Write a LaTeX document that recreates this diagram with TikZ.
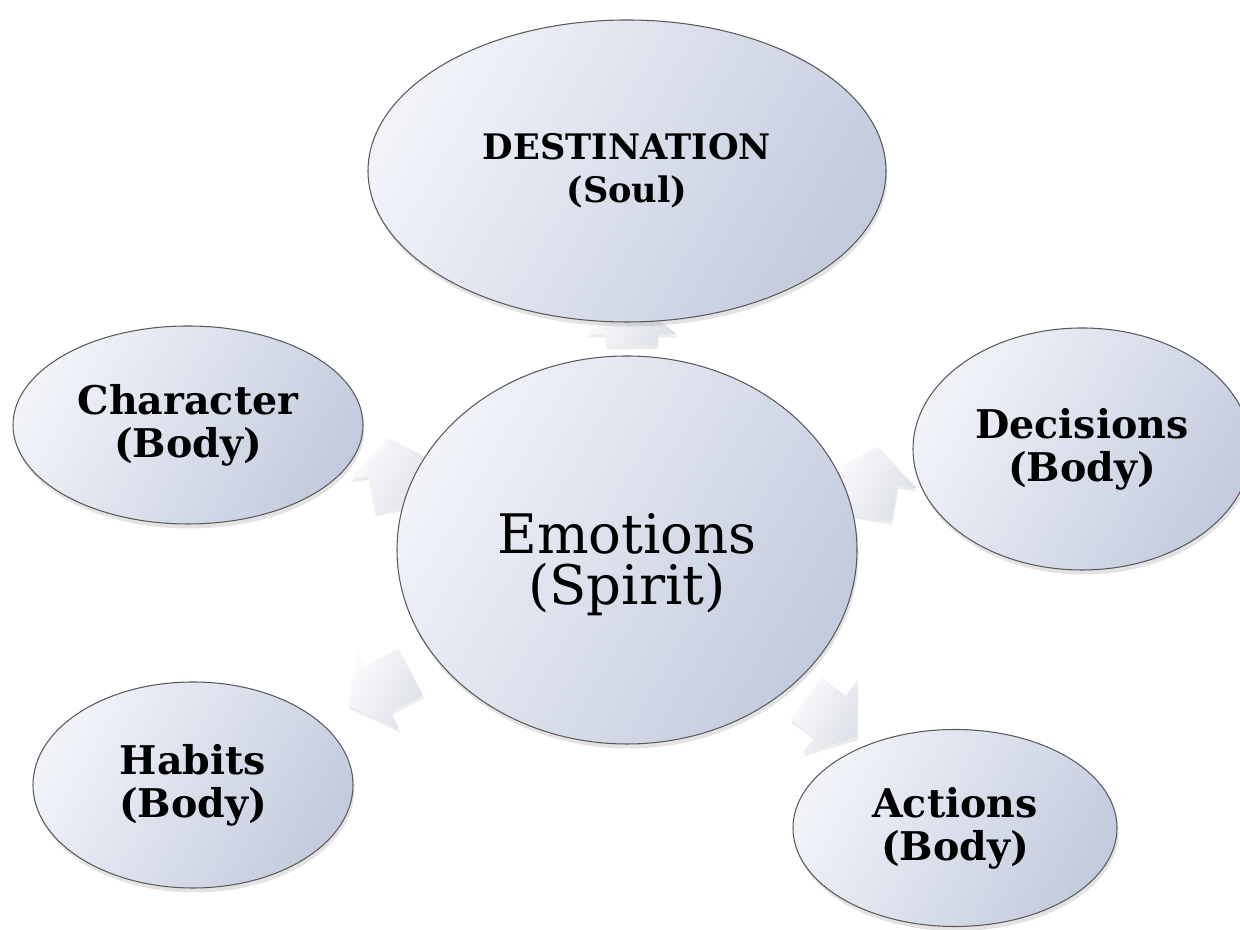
\documentclass[tikz,border=0pt]{standalone}
\usepackage{fontspec}
\setmainfont{DejaVu Serif}
\usetikzlibrary{shapes.geometric,shadows}

\definecolor{ovalLight}{HTML}{F1F3F9}
\definecolor{ovalDark}{HTML}{C4CBDE}
\definecolor{ovalEdge}{HTML}{5A5A5A}
\definecolor{arrLight}{HTML}{FBFBFD}
\definecolor{arrDark}{HTML}{DDE0E8}

\begin{document}
\begin{tikzpicture}[
    oval/.style={ellipse,draw=ovalEdge,line width=0.6pt,inner sep=0pt,
        left color=ovalLight,right color=ovalDark,shading angle=60,
        drop shadow={shadow xshift=0.03cm,shadow yshift=-0.09cm,opacity=0.22},
        align=center,font=\fontsize{22.5}{24.5}\selectfont\bfseries},
    core/.style={oval,font=\fontsize{31}{29}\selectfont},
    blockarrow/.style={left color=arrLight,right color=arrDark,shading angle=60,
        drop shadow={shadow xshift=0.02cm,shadow yshift=-0.07cm,opacity=0.15}},
]
\useasboundingbox (0,0) rectangle (24.8,18.6);

    %%%
    % Block arrows first, so that the ovals lie over them
    \foreach \x/\y/\ang/\shaft in {12.63/11.92/90/0.24, 7.88/9.17/100/0.74,
        17.44/8.99/80/0.74, 7.56/4.82/208/0.74, 16.6/4.27/-37/0.6}
    \path[blockarrow,shift={(\x,\y)},rotate=\ang]
        (-\shaft,-0.52) -- (0,-0.52) -- (0,-0.91) -- (0.68,0)
        -- (0,0.91) -- (0,0.52) -- (-\shaft,0.52) -- cycle;

    %%%
    % Ovals
    \node[oval,minimum width=10.36cm,minimum height=6.04cm,
        font=\fontsize{20}{24.5}\selectfont\bfseries] (dest) at (12.54,15.18) {DESTINATION\\(Soul)};
    \node[core,minimum width=9.2cm,minimum height=7.76cm] (emo) at (12.54,7.6) {\rule{0pt}{1.4cm}Emotions\\(Spirit)};
    \node[oval,minimum width=7cm,minimum height=3.96cm] (char) at (3.76,10.1) {Character\\(Body)};
    \node[oval,minimum width=6.76cm,minimum height=4.84cm] (dec) at (21.64,9.62) {Decisions\\(Body)};
    \node[oval,minimum width=6.4cm,minimum height=4.12cm] (hab) at (3.86,2.9) {Habits\\(Body)};
    \node[oval,minimum width=6.48cm,minimum height=3.94cm] (act) at (19.1,2.04) {Actions\\(Body)};

\end{tikzpicture}
\end{document}
